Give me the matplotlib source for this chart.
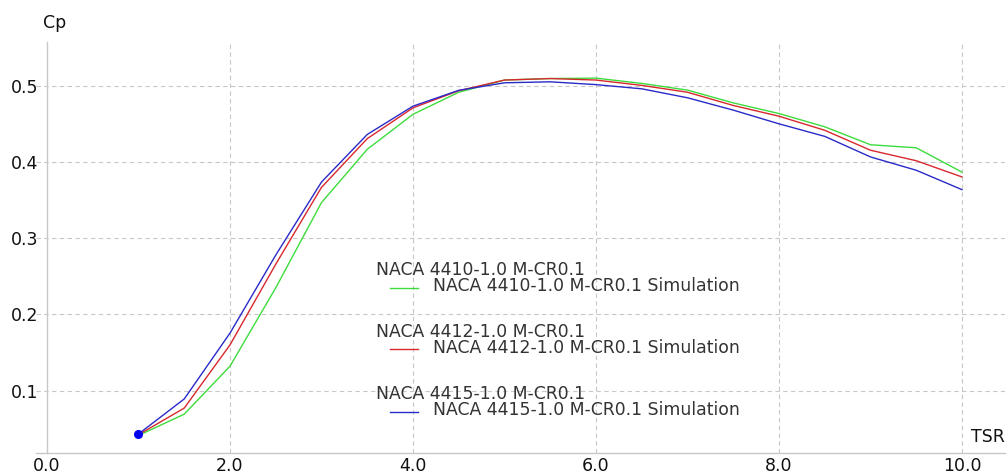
import matplotlib
matplotlib.use("Agg")
import matplotlib.pyplot as plt
from matplotlib.lines import Line2D

tsr = [1.0, 1.5, 2.0, 2.5, 3.0, 3.5, 4.0, 4.5, 5.0, 5.5, 6.0, 6.5, 7.0, 7.5, 8.0, 8.5, 9.0, 9.5, 10.0]
cp_4410 = [0.041, 0.069, 0.132, 0.235, 0.347, 0.417, 0.463, 0.492, 0.508, 0.510, 0.5105, 0.5036, 0.4948, 0.478, 0.464, 0.4466, 0.423, 0.419, 0.387]
cp_4412 = [0.042, 0.077, 0.160, 0.266, 0.367, 0.431, 0.4715, 0.494, 0.508, 0.510, 0.508, 0.501, 0.492, 0.4746, 0.4605, 0.442, 0.4158, 0.402, 0.3807]
cp_4415 = [0.043, 0.089, 0.1755, 0.278, 0.374, 0.4365, 0.4737, 0.4945, 0.5044, 0.5057, 0.502, 0.4965, 0.4847, 0.4685, 0.4505, 0.434, 0.407, 0.3895, 0.364]

series = [
    ("NACA 4410-1.0 M-CR0.1", cp_4410, "#3ddc3d"),
    ("NACA 4412-1.0 M-CR0.1", cp_4412, "#d8282e"),
    ("NACA 4415-1.0 M-CR0.1", cp_4415, "#2a2ac8"),
]
xticks = [0.0, 2.0, 4.0, 6.0, 8.0, 10.0]
yticks = [0.1, 0.2, 0.3, 0.4, 0.5]

W, H = 1007, 476
fig = plt.figure(figsize=(W / 100, H / 100), dpi=100)
ax = fig.add_axes([36 / W, 1 - 453.3 / H, (1005 - 36) / W, (453.3 - 42) / H])
ax.set_xlim(-0.12, 10.47)
ax.set_ylim(0.0176, 0.558)

gc = "#c8c8c8"
for s in ["top", "right"]:
    ax.spines[s].set_visible(False)
ax.spines["left"].set_position(("data", 0))
ax.spines["left"].set_color(gc)
ax.spines["bottom"].set_color(gc)
ax.spines["left"].set_linewidth(1.0)
ax.spines["bottom"].set_linewidth(1.0)

for xv in xticks[1:]:
    ax.axvline(xv, color=gc, lw=0.8, ls=(0, (4, 3)), zorder=0)
for yv in yticks:
    ax.axhline(yv, color=gc, lw=0.8, ls=(0, (4, 3)), zorder=0)

ax.set_xticks(xticks)
ax.set_xticklabels([f"{v:.1f}" for v in xticks])
ax.set_yticks(yticks)
ax.set_yticklabels([f"{v:.1f}" for v in yticks])
ax.tick_params(axis="both", length=0, labelsize=12.5, colors="#111111")
ax.tick_params(axis="x", pad=3)
ax.tick_params(axis="y", pad=6)

for name, vals, col in series:
    ax.plot(tsr, vals, color=col, lw=1.0, zorder=3)
ax.plot([tsr[0]], [cp_4415[0]], "o", color="#0000ee", ms=5.5, zorder=4)

fig.text(43 / W, 1 - 23 / H, "Cp", fontsize=12.5, va="center", ha="left", color="#111111")
fig.text(1005 / W, 1 - 437 / H, "TSR", fontsize=12.5, va="center", ha="right", color="#111111")

# legend entries
title_y = [270, 331.7, 394]
for (name, vals, col), ty in zip(series, title_y):
    fig.text(376 / W, 1 - ty / H, name, fontsize=12.4, va="center", ha="left", color="#333333")
    ly = ty + 17.5
    fig.add_artist(Line2D([390 / W, 418 / W], [1 - ly / H, 1 - ly / H], color=col, lw=1.0,
                          transform=fig.transFigure))
    fig.text(433 / W, 1 - (ly - 1.5) / H, name + " Simulation", fontsize=12.4, va="center",
             ha="left", color="#333333")

fig.savefig("out.png", dpi=100)
